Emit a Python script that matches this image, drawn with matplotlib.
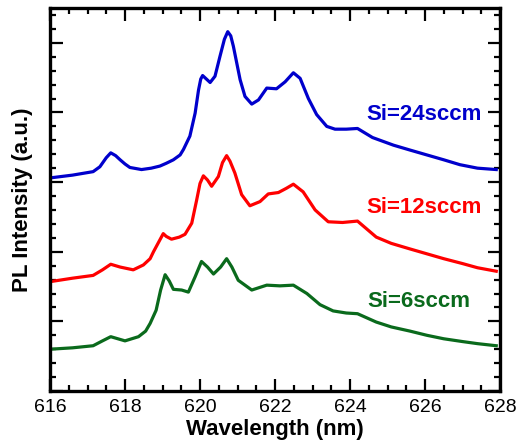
import matplotlib.pyplot as plt
from matplotlib.ticker import MultipleLocator

plt.rcParams['font.family'] = ['Liberation Sans', 'DejaVu Sans']

# Si=24sccm (blue)
wl_24 = [616.0, 616.6, 617.15, 617.33, 617.5, 617.62, 617.75, 617.87, 618.0, 618.13, 618.44,
         618.7, 618.93, 619.1, 619.29, 619.47, 619.56, 619.73, 619.87, 619.96, 620.02, 620.07,
         620.15, 620.27, 620.4, 620.53, 620.65, 620.74, 620.82, 620.89, 621.07, 621.2, 621.38,
         621.56, 621.78, 622.04, 622.27, 622.49, 622.67, 622.89, 623.11, 623.38, 623.6,
         623.9, 624.2, 624.6, 625.16, 625.6, 626.05, 626.5, 626.93, 627.4, 627.9]
pl_24 = [3.06, 3.1, 3.15, 3.22, 3.35, 3.42, 3.38, 3.32, 3.26, 3.21, 3.18,
         3.2, 3.23, 3.27, 3.32, 3.39, 3.47, 3.66, 3.99, 4.32, 4.48, 4.53,
         4.49, 4.43, 4.52, 4.8, 5.05, 5.16, 5.1, 4.95, 4.47, 4.23, 4.12,
         4.18, 4.35, 4.34, 4.44, 4.57, 4.49, 4.2, 3.97, 3.8, 3.76,
         3.76, 3.77, 3.64, 3.53, 3.46, 3.39, 3.32, 3.25, 3.2, 3.18]

# Si=12sccm (red)
wl_12 = [616.0, 616.6, 617.15, 617.4, 617.62, 617.87, 618.22, 618.49, 618.67, 618.76, 619.02,
         619.1, 619.24, 619.45, 619.6, 619.78, 619.91, 620.0, 620.09, 620.2, 620.31, 620.49,
         620.6, 620.71, 620.8, 620.93, 621.11, 621.33, 621.6, 621.82, 622.09, 622.3, 622.49,
         622.75, 623.07, 623.42, 623.8, 624.2, 624.7, 625.1, 625.6, 626.05, 626.5, 627.0,
         627.4, 627.9]
pl_12 = [1.57, 1.62, 1.66, 1.74, 1.82, 1.78, 1.74, 1.81, 1.9, 2.0, 2.26,
         2.22, 2.18, 2.21, 2.25, 2.41, 2.74, 2.98, 3.09, 3.03, 2.94, 3.08,
         3.28, 3.38, 3.3, 3.13, 2.82, 2.66, 2.72, 2.83, 2.85, 2.91, 2.97,
         2.86, 2.6, 2.43, 2.42, 2.44, 2.21, 2.12, 2.04, 1.97, 1.9, 1.83,
         1.77, 1.72]

# Si=6sccm (green)
wl_6 = [616.0, 616.6, 617.15, 617.4, 617.62, 618.0, 618.36, 618.55, 618.67, 618.83, 618.95,
        619.07, 619.18, 619.29, 619.51, 619.69, 619.87, 620.04, 620.2, 620.36, 620.55, 620.71,
        620.85, 621.02, 621.38, 621.78, 622.13, 622.49, 622.85, 623.2, 623.55, 623.9,
        624.2, 624.7, 625.1, 625.6, 626.05, 626.5, 627.0, 627.4, 627.9]
pl_6 = [0.6, 0.62, 0.65, 0.72, 0.78, 0.72, 0.78, 0.86, 0.97, 1.16, 1.45,
        1.67, 1.58, 1.46, 1.45, 1.42, 1.64, 1.86, 1.78, 1.68, 1.78, 1.9,
        1.78, 1.59, 1.45, 1.52, 1.51, 1.52, 1.4, 1.24, 1.15, 1.12,
        1.11, 0.99, 0.92, 0.86, 0.8, 0.75, 0.71, 0.68, 0.65]

series = [
    (wl_24, pl_24, '#0000cc', 'Si=24sccm', 627.5, 3.97),
    (wl_12, pl_12, '#ff0000', 'Si=12sccm', 627.5, 2.63),
    (wl_6, pl_6, '#0a6a1c', 'Si=6sccm', 627.2, 1.29),
]

fig = plt.figure(figsize=(5.22, 4.44), dpi=100)
ax = fig.add_axes([50 / 522, 53 / 444, 450 / 522, 383 / 444])

for wl, pl, color, label, tx, ty in series:
    ax.plot(wl, pl, color=color, lw=2.3, solid_joinstyle='round')
    ax.text(tx, ty, label, color=color, fontsize=16, fontweight='bold',
            ha='right', va='center')

ax.set_xlim(616, 628)
ax.set_ylim(0, 5.5)
ax.xaxis.set_major_locator(MultipleLocator(2))
ax.xaxis.set_minor_locator(MultipleLocator(0.5))
ax.yaxis.set_major_locator(MultipleLocator(1))
ax.yaxis.set_minor_locator(MultipleLocator(0.2))
ax.tick_params(which='both', direction='in', top=True, right=True, width=1.6,
               labelsize=14, labelleft=False, pad=6)
ax.tick_params(which='major', length=9)
ax.tick_params(which='minor', length=4.5)
for sp in ax.spines.values():
    sp.set_linewidth(2.4)

ax.set_xlabel('Wavelength (nm)', fontsize=16, fontweight='bold', labelpad=2)
ax.set_ylabel('PL Intensity (a.u.)', fontsize=16, fontweight='bold', labelpad=12)

fig.savefig('out.png', dpi=100)
